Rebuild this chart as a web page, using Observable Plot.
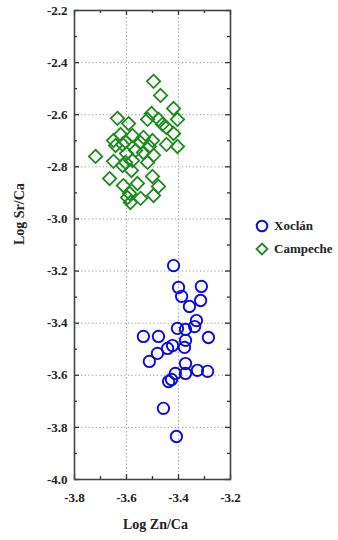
<!DOCTYPE html>
<html>
<head>
<meta charset="utf-8">
<script src="https://cdn.jsdelivr.net/npm/d3@7"></script>
<script src="https://cdn.jsdelivr.net/npm/@observablehq/plot@0.6"></script>
<style>
  html, body { margin: 0; padding: 0; background: #fff; }
  #wrap { position: relative; width: 338px; height: 540px; }
  #legend { position: absolute; left: 255px; top: 214px; font-family: "Liberation Serif", serif; font-weight: bold; font-size: 13px; color: #222; }
  #legend div { display: flex; align-items: center; height: 23px; }
  #legend svg { margin-right: 5px; }
</style>
</head>
<body>
<div id="wrap"><div id="legend"></div></div>
<script>
// Xoclán (circles): Log Zn/Ca, Log Sr/Ca
const xoclanZn = [-3.419,-3.400,-3.312,-3.388,-3.315,-3.358,-3.331,-3.338,-3.404,-3.373,-3.535,-3.477,-3.285,-3.423,-3.377,-3.373,-3.442,-3.481,-3.512,-3.373,-3.327,-3.288,-3.373,-3.412,-3.427,-3.438,-3.458,-3.408];
const xoclanSr = [-3.179,-3.263,-3.259,-3.297,-3.313,-3.336,-3.390,-3.413,-3.420,-3.424,-3.451,-3.451,-3.455,-3.486,-3.493,-3.466,-3.497,-3.516,-3.547,-3.555,-3.581,-3.585,-3.593,-3.593,-3.616,-3.624,-3.727,-3.835];
// Campeche (diamonds)
const campecheZn = [-3.496,-3.469,-3.635,-3.592,-3.504,-3.519,-3.477,-3.462,-3.446,-3.419,-3.404,-3.419,-3.404,-3.446,-3.500,-3.535,-3.577,-3.623,-3.650,-3.642,-3.615,-3.604,-3.546,-3.512,-3.600,-3.565,-3.535,-3.496,-3.519,-3.577,-3.604,-3.719,-3.650,-3.615,-3.581,-3.665,-3.612,-3.558,-3.500,-3.477,-3.496,-3.546,-3.596,-3.585,-3.588];
const campecheSr = [-2.472,-2.526,-2.614,-2.634,-2.595,-2.618,-2.618,-2.637,-2.649,-2.576,-2.618,-2.672,-2.722,-2.714,-2.699,-2.687,-2.680,-2.676,-2.699,-2.718,-2.714,-2.703,-2.707,-2.722,-2.749,-2.737,-2.745,-2.756,-2.783,-2.776,-2.783,-2.760,-2.779,-2.795,-2.814,-2.845,-2.872,-2.864,-2.837,-2.875,-2.910,-2.921,-2.918,-2.937,-2.902];
const seriesNames = ["Xoclán", "Campeche"];
const xMajor = [-3.8, -3.6, -3.4, -3.2];
const xMinor = [-3.7, -3.5, -3.3];
const xGrid = [-3.6, -3.4];
const yMajor = [-2.2, -2.4, -2.6, -2.8, -3.0, -3.2, -3.4, -3.6, -3.8, -4.0];
const yMinor = [-2.3, -2.5, -2.7, -2.9, -3.1, -3.3, -3.5, -3.7, -3.9];
const yGrid = [-2.4, -2.6, -2.8, -3.0, -3.2, -3.4, -3.6, -3.8];
const xTitle = "Log Zn/Ca";
const yTitle = "Log Sr/Ca";

const blue = "#0a0ae8", green = "#1e8a1e";
const xoclan = xoclanZn.map((x, i) => ({x, y: xoclanSr[i]}));
const campeche = campecheZn.map((x, i) => ({x, y: campecheSr[i]}));

const W = 338, H = 540, mL = 74, mR = 108, mT = 10, mB = 61;
const pw = W - mL - mR, ph = H - mT - mB;
const major = 5, minor = 3;
const fmt = d => d.toFixed(1);

const chart = Plot.plot({
  width: W, height: H,
  marginLeft: mL, marginRight: mR, marginTop: mT, marginBottom: mB,
  x: {domain: [-3.8, -3.2]},
  y: {domain: [-4.0, -2.2]},
  style: {fontFamily: "Liberation Serif, serif", fontWeight: "bold", fontSize: "13px", color: "#222", background: "#fff"},
  marks: [
    Plot.gridX(xGrid, {stroke: "#999", strokeOpacity: 1, strokeDasharray: "1.2,2.4", strokeWidth: 1}),
    Plot.gridY(yGrid, {stroke: "#999", strokeOpacity: 1, strokeDasharray: "1.2,2.4", strokeWidth: 1}),
    Plot.ruleX(xMajor, {insetTop: ph - major, stroke: "#333", strokeWidth: 1.3}),
    Plot.ruleX(xMajor, {insetBottom: ph - major, stroke: "#333", strokeWidth: 1.3}),
    Plot.ruleX(xMinor, {insetTop: ph - minor, stroke: "#333", strokeWidth: 1.3}),
    Plot.ruleX(xMinor, {insetBottom: ph - minor, stroke: "#333", strokeWidth: 1.3}),
    Plot.ruleY(yMajor, {insetRight: pw - major, stroke: "#333", strokeWidth: 1.3}),
    Plot.ruleY(yMajor, {insetLeft: pw - major, stroke: "#333", strokeWidth: 1.3}),
    Plot.ruleY(yMinor, {insetRight: pw - minor, stroke: "#333", strokeWidth: 1.3}),
    Plot.ruleY(yMinor, {insetLeft: pw - minor, stroke: "#333", strokeWidth: 1.3}),
    Plot.frame({stroke: "#444", strokeWidth: 1.6}),
    Plot.axisX(xMajor, {anchor: "bottom", tickSize: 0, tickPadding: 13, tickFormat: fmt, label: null}),
    Plot.axisY(yMajor, {anchor: "left", tickSize: 0, tickPadding: 7, tickFormat: fmt, label: null}),
    Plot.text([xTitle], {frameAnchor: "bottom", dy: 49, dx: 3, fontSize: 14, fontWeight: "bold"}),
    Plot.text([yTitle], {frameAnchor: "left", dx: -55, rotate: -90, fontSize: 14, fontWeight: "bold"}),
    Plot.dot(campeche, {x: "x", y: "y", symbol: "diamond2", r: 6, stroke: green, strokeWidth: 1.8, fill: "none"}),
    Plot.dot(xoclan, {x: "x", y: "y", symbol: "circle", r: 5.7, stroke: blue, strokeWidth: 1.9, fill: "none"})
  ]
});
const wrap = document.getElementById("wrap");
wrap.insertBefore(chart, wrap.firstChild);

const legend = document.getElementById("legend");
const sym = [
  `<svg width="14" height="14"><circle cx="7" cy="7" r="5.3" fill="none" stroke="${blue}" stroke-width="2"/></svg>`,
  `<svg width="14" height="14"><path d="M7 1.5L12.5 7L7 12.5L1.5 7Z" fill="none" stroke="${green}" stroke-width="1.8"/></svg>`
];
seriesNames.forEach((n, i) => {
  const row = document.createElement("div");
  row.innerHTML = sym[i] + `<span>${n}</span>`;
  legend.appendChild(row);
});
</script>
</body>
</html>
